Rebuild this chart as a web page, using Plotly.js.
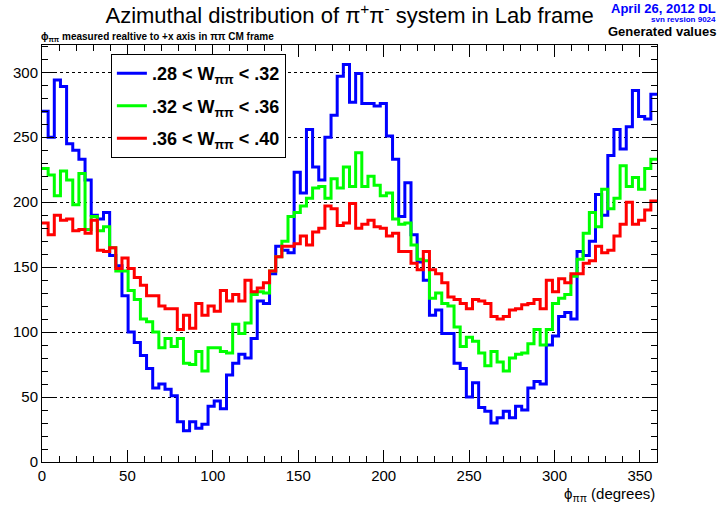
<!DOCTYPE html>
<html>
<head>
<meta charset="utf-8">
<script src="https://cdn.plot.ly/plotly-3.0.1.min.js"></script>
<style>html,body{margin:0;padding:0;background:#fff;}#chart{width:721px;height:506px;}</style>
</head>
<body>
<div id="chart"></div>
<script>
// Histogram range (degrees) and bin contents, 100 bins of 3.6 degrees
const phiMin = 0;
const phiMax = 360;

const blueCounts = [270,250,294,289,245,240,233,217,190,187,
  192,159,151,128,100,92,82,72,57,60,
  56,51,31,24,31,26,29,43,47,41,
  67,76,83,80,95,124,122,145,166,163,
  161,223,207,256,227,217,250,267,297,306,
  277,299,276,276,274,276,251,233,189,215,
  175,154,140,113,117,99,99,76,72,50,
  61,42,39,30,34,39,34,43,40,57,
  62,60,90,97,112,115,110,162,159,170,
  206,190,236,256,241,258,286,266,264,283];

const greenCounts = [226,221,205,224,217,198,222,179,189,178,
  181,165,147,147,132,125,110,108,100,88,
  95,89,95,76,75,85,70,88,88,85,
  84,106,99,107,129,131,130,147,158,170,
  189,192,197,203,211,212,203,218,211,227,
  212,238,212,220,213,205,207,187,183,184,
  167,156,155,126,130,122,120,104,89,96,
  93,84,74,85,77,70,80,83,84,91,
  102,90,102,122,126,129,143,156,176,192,
  181,210,195,203,228,212,219,210,226,233];

const redCounts = [184,175,190,186,187,178,179,176,186,163,
  162,165,149,157,149,142,136,128,128,120,
  118,118,102,113,103,122,113,120,116,132,
  124,129,124,140,131,134,138,147,158,166,
  166,168,174,167,177,180,197,195,182,184,
  199,180,183,186,181,180,174,176,162,162,
  153,148,162,148,145,138,127,125,122,118,
  125,124,122,112,110,112,117,118,121,122,
  125,118,140,131,141,138,145,145,153,155,
  166,161,163,174,183,200,183,186,194,201];

const seriesNames = [
  '.28 &lt; W<sub>ππ</sub> &lt; .32',
  '.32 &lt; W<sub>ππ</sub> &lt; .36',
  '.36 &lt; W<sub>ππ</sub> &lt; .40'
];
const seriesColors = ['#0000ff', '#00ff00', '#ff0000'];

const xTickVals = [0, 50, 100, 150, 200, 250, 300, 350];
const yTickVals = [0, 50, 100, 150, 200, 250, 300];

function stepTrace(counts, name, color, group) {
  const w = (phiMax - phiMin) / counts.length;
  const x = counts.map((_, i) => phiMin + i * w);
  x.push(phiMax);
  const y = counts.concat([counts[counts.length - 1]]);
  return {
    x: x, y: y, type: 'scatter', mode: 'lines', name: name,
    legendgroup: group,
    line: {shape: 'hv', color: color, width: 3},
    hoverinfo: 'skip'
  };
}

const data = [
  stepTrace(blueCounts, seriesNames[0], seriesColors[0], 'g1'),
  stepTrace(greenCounts, seriesNames[1], seriesColors[1], 'g2'),
  stepTrace(redCounts, seriesNames[2], seriesColors[2], 'g3')
];

const font = 'Liberation Sans, Arial, Helvetica, sans-serif';

const layout = {
  width: 721, height: 506,
  margin: {l: 42, r: 64, t: 45, b: 44},
  paper_bgcolor: '#ffffff', plot_bgcolor: '#ffffff',
  showlegend: true,
  font: {family: font, color: '#000', size: 15},
  title: {
    text: 'Azimuthal distribution of π<sup>+</sup>π<sup>-</sup> system in Lab frame',
    font: {family: font, size: 22, color: '#000'},
    x: 0.485, xanchor: 'center', y: 0.984, yanchor: 'top'
  },
  xaxis: {
    range: [phiMin, phiMax],
    tickvals: xTickVals,
    ticks: 'inside', ticklen: 12, tickwidth: 1, tickcolor: '#000',
    minor: {dtick: 10, ticks: 'inside', ticklen: 6, tickcolor: '#000', showgrid: false},
    showline: true, linecolor: '#000', linewidth: 1, mirror: 'allticks',
    showgrid: false, zeroline: false,
    tickfont: {family: font, size: 15, color: '#000'}
  },
  yaxis: {
    range: [0, 321],
    tickvals: yTickVals,
    ticks: 'inside', ticklen: 12, tickwidth: 1, tickcolor: '#000',
    minor: {dtick: 10, ticks: 'inside', ticklen: 6, tickcolor: '#000', showgrid: false},
    showline: true, linecolor: '#000', linewidth: 1, mirror: 'allticks',
    showgrid: true, gridcolor: '#000', griddash: 'dot', gridwidth: 1,
    zeroline: false,
    tickfont: {family: font, size: 15, color: '#000'}
  },
  legend: {
    x: 0.112, y: 0.978, xanchor: 'left', yanchor: 'top',
    bgcolor: '#ffffff', bordercolor: '#000', borderwidth: 1,
    font: {family: font, size: 18, color: '#000', weight: 'bold'},
    tracegroupgap: 6,
    itemwidth: 30
  },
  annotations: [
    {text: 'ϕ<sub>ππ</sub> (degrees)', xref: 'paper', yref: 'paper', x: 1.0, y: -0.078,
     xanchor: 'right', yanchor: 'middle', showarrow: false,
     font: {family: font, size: 15, color: '#000'}},
    {text: '<b>April 26, 2012 DL</b>', xref: 'paper', yref: 'paper', x: 1.097, y: 1.0875,
     xanchor: 'right', yanchor: 'middle', showarrow: false, borderpad: 0,
     font: {family: font, size: 13, color: '#0000ff'}},
    {text: '<b>svn revsion 9024</b>', xref: 'paper', yref: 'paper', x: 1.097, y: 1.0612,
     xanchor: 'right', yanchor: 'middle', showarrow: false, borderpad: 0,
     font: {family: font, size: 8, color: '#0000ff'}},
    {text: '<b>Generated values</b>', xref: 'paper', yref: 'paper', x: 1.097, y: 1.0312,
     xanchor: 'right', yanchor: 'middle', showarrow: false, borderpad: 0,
     font: {family: font, size: 13, color: '#000'}},
    {text: '<b>ϕ<sub>ππ</sub> measured realtive to +x axis in ππ CM frame</b>', xref: 'paper', yref: 'paper',
     x: -0.005, y: 1.02, xanchor: 'left', yanchor: 'middle', showarrow: false,
     font: {family: font, size: 10, color: '#000'}}
  ]
};

Plotly.newPlot('chart', data, layout, {displayModeBar: false, staticPlot: true});
</script>
</body>
</html>
